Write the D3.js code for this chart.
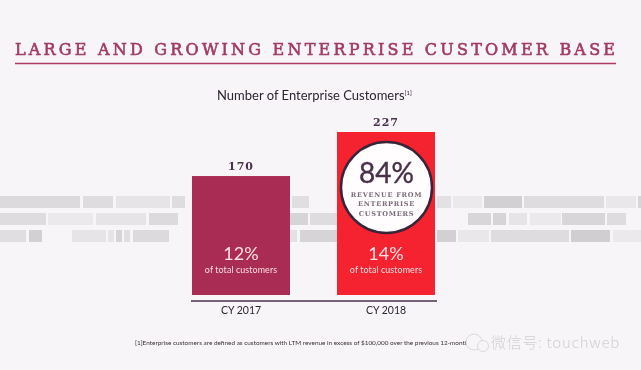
<!DOCTYPE html>
<html>
<head>
<meta charset="utf-8">
<script src="https://cdn.jsdelivr.net/npm/d3@7"></script>
<style>
  html, body { margin: 0; padding: 0; background: #f8f5f9; }
  svg { display: block; filter: blur(0.35px); }
</style>
</head>
<body>
<div id="chart"></div>
<script>
// Data
const years = ['CY 2017', 'CY 2018'];
const customers = [170, 227];
const shares = ['12%', '14%'];
const barColors = ['#a92c54', '#f5222f'];

// Background stripes: [row, start, end, grey]
const stripes = [
    [0, 0, 80, '#dcdadd'], [0, 83, 113, '#dedcdf'], [0, 116, 170, '#e6e4e7'], [0, 172, 185, '#dedcdf'],
    [0, 292, 309, '#e0dee1'], [0, 437, 451, '#e3e1e4'], [0, 453, 482, '#ebe9ec'], [0, 484, 522, '#d2d0d3'],
    [0, 524, 604, '#dedcdf'], [0, 606, 636, '#e9e7ea'], [0, 638, 641, '#d8d6d9'],
    [1, 0, 46, '#dedcdf'], [1, 48, 93, '#ebe9ec'], [1, 96, 146, '#e6e4e7'], [1, 149, 178, '#dcdadd'],
    [1, 290, 308, '#d6d4d7'], [1, 310, 337, '#dedcdf'],
    [1, 468, 491, '#d8d6d9'], [1, 493, 506, '#d6d4d7'], [1, 509, 527, '#e6e4e7'], [1, 530, 561, '#ebe9ec'],
    [1, 562, 605, '#d8d6d9'], [1, 607, 626, '#dedcdf'],
    [2, 0, 26, '#e0dee1'], [2, 29, 42, '#d2d0d3'], [2, 72, 106, '#e6e4e7'], [2, 108, 114, '#e6e4e7'],
    [2, 116, 122, '#d6d4d7'], [2, 124, 130, '#e0dee1'], [2, 133, 169, '#dcdadd'],
    [2, 290, 297, '#e3e1e4'], [2, 300, 337, '#d6d4d7'],
    [2, 437, 456, '#d2d0d3'], [2, 458, 489, '#e9e7ea'], [2, 491, 569, '#dedcdf'], [2, 571, 610, '#d0ced1'],
    [2, 613, 641, '#ebe9ec']
];

const width = 641;
const height = 370;
const plum = '#4a3049';
const rose = '#a03c64';
const serif = '"DejaVu Serif", serif';
const sans = '"Lato", "Open Sans", sans-serif';

const svg = d3.select('#chart').append('svg')
    .attr('width', width).attr('height', height);

svg.append('rect')
    .attr('width', width).attr('height', height)
    .attr('fill', '#f8f5f9');

// Scales (the source bars do not start from a true zero)
const xScale = d3.scaleBand().domain(years).range([192, 435]).paddingInner(47 / 145);
const yScale = d3.scaleLinear().domain([16, 227]).range([295, 132]);
const rowScale = d3.scaleBand().domain([0, 1, 2]).range([196, 242]).paddingInner(5 / 17);

// Stripes
svg.append('g').selectAll('rect')
    .data(stripes)
    .join('rect')
    .attr('x', d => d[1])
    .attr('y', d => rowScale(d[0]))
    .attr('width', d => d[2] - d[1])
    .attr('height', rowScale.bandwidth())
    .attr('fill', d => d[3]);

// Title
svg.append('text')
    .attr('x', 15).attr('y', 55)
    .attr('font-family', serif)
    .attr('font-size', 16)
    .attr('fill', rose)
    .attr('stroke', rose)
    .attr('stroke-width', 0.6)
    .attr('textLength', 600)
    .attr('lengthAdjust', 'spacing')
    .text('LARGE AND GROWING ENTERPRISE CUSTOMER BASE');

svg.append('line')
    .attr('x1', 15).attr('x2', 616)
    .attr('y1', 63.5).attr('y2', 63.5)
    .attr('stroke', '#ad3a62').attr('stroke-width', 1.6);

// Chart heading
const heading = svg.append('text')
    .attr('x', 217).attr('y', 100)
    .attr('font-family', sans)
    .attr('font-size', 13)
    .attr('fill', '#2e2530');
heading.append('tspan').text('Number of Enterprise Customers');
heading.append('tspan').attr('font-size', 6).attr('dy', -5).text('[1]');

// Bars
svg.append('g').selectAll('rect')
    .data(years)
    .join('rect')
    .attr('x', d => xScale(d))
    .attr('y', (d, i) => yScale(customers[i]))
    .attr('width', xScale.bandwidth())
    .attr('height', (d, i) => yScale.range()[0] - yScale(customers[i]))
    .attr('fill', (d, i) => barColors[i]);

// Value labels
svg.append('g').selectAll('text')
    .data(years)
    .join('text')
    .attr('x', d => xScale(d) + xScale.bandwidth() / 2)
    .attr('y', (d, i) => yScale(customers[i]) - 6)
    .attr('text-anchor', 'middle')
    .attr('font-family', serif)
    .attr('font-size', 11)
    .attr('font-weight', 'bold')
    .attr('letter-spacing', 1)
    .attr('fill', plum)
    .text((d, i) => customers[i]);

// Share labels inside bars
years.forEach((year, i) => {
    const cx = xScale(year) + xScale.bandwidth() / 2;
    svg.append('text')
        .attr('x', cx).attr('y', 260.4)
        .attr('text-anchor', 'middle')
        .attr('font-family', sans)
        .attr('font-size', 18)
        .attr('fill', '#fbdfe4')
        .text(shares[i]);
    svg.append('text')
        .attr('x', cx).attr('y', 273)
        .attr('text-anchor', 'middle')
        .attr('font-family', sans)
        .attr('font-size', 8.9)
        .attr('letter-spacing', 0.1)
        .attr('fill', '#fbdfe4')
        .text('of total customers');
});

// Baseline and axis labels
const axis = svg.append('g')
    .attr('transform', 'translate(0,301)')
    .call(d3.axisBottom(xScale).tickSize(0).tickPadding(6))
    .call(g => g.select('.domain').remove())
    .call(g => g.selectAll('text')
        .attr('font-family', sans)
        .attr('font-size', 10.5)
        .attr('fill', '#2e2530'));
axis.append('line')
    .attr('x1', 191).attr('x2', 437)
    .attr('stroke', plum).attr('stroke-width', 1.5);

// Callout circle
const callout = svg.append('g')
    .attr('transform', `translate(${xScale('CY 2018') + xScale.bandwidth() / 2 + 0.5},187.5)`);
callout.append('circle')
    .attr('r', 45.5)
    .attr('fill', '#fffdfd')
    .attr('stroke', '#3a2438')
    .attr('stroke-width', 2.5);
callout.append('text')
    .attr('y', -5)
    .attr('text-anchor', 'middle')
    .attr('font-family', sans)
    .attr('font-size', 28)
    .attr('fill', plum)
    .attr('stroke', plum)
    .attr('stroke-width', 0.4)
    .text('84%');
['REVENUE FROM', 'ENTERPRISE', 'CUSTOMERS'].forEach((line, i) => {
    callout.append('text')
        .attr('y', 9.5 + i * 9.3)
        .attr('text-anchor', 'middle')
        .attr('font-family', serif)
        .attr('font-size', 6.6)
        .attr('font-weight', 'bold')
        .attr('letter-spacing', 0.7)
        .attr('fill', '#7a6a7a')
        .text(line);
});

// Footnote
svg.append('text')
    .attr('x', 135).attr('y', 344.5)
    .attr('font-family', sans)
    .attr('font-size', 6.4)
    .attr('fill', '#3a3038')
    .text('[1]Enterprise customers are defined as customers with LTM revenue in excess of $100,000 over the previous 12-months');

// Watermark
const mark = svg.append('g').attr('transform', 'translate(466,342)');
mark.append('circle').attr('r', 8).attr('cx', 8).attr('fill', '#f8f5f9').attr('stroke', '#d4d2d6').attr('stroke-width', 0.8);
mark.append('circle').attr('r', 5.5).attr('cx', 17).attr('cy', 4).attr('fill', '#f8f5f9').attr('stroke', '#d4d2d6').attr('stroke-width', 0.8);
svg.append('text')
    .attr('x', 491).attr('y', 348)
    .attr('font-family', '"Noto Sans CJK SC", sans-serif')
    .attr('font-size', 15)
    .attr('font-weight', 300)
    .attr('letter-spacing', 0.7)
    .attr('fill', '#d2d0d4')
    .text('微信号: touchweb');
</script>
</body>
</html>
